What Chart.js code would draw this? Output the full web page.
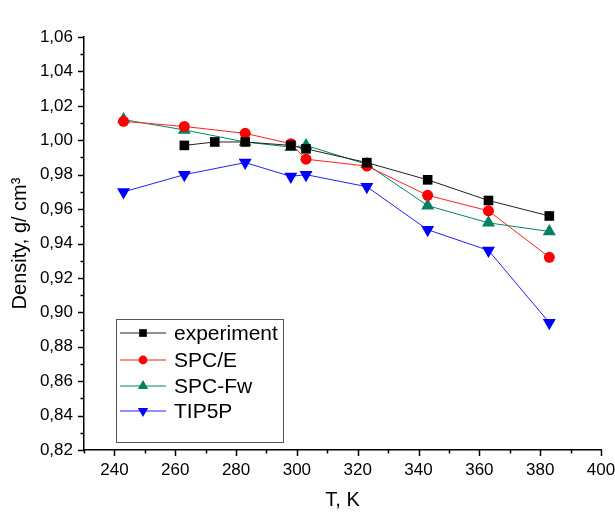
<!DOCTYPE html>
<html>
<head>
<meta charset="UTF-8">
<title>Density vs T</title>
<script src="https://cdn.jsdelivr.net/npm/chart.js"></script>
<style>
  body { margin: 0; background: #fff; }
  #wrap { width: 615px; height: 512px; }
</style>
</head>
<body>
<div id="wrap"><canvas id="densityChart"></canvas></div>
<script>
// temperatures, K
const temps = [243, 263, 273, 283, 298, 303, 323, 343, 363, 383];
// densities, g/cm3 (null = no point)
const experiment = [null, 0.997, 0.999, 0.999, 0.997, 0.995, 0.987, 0.977, 0.965, 0.956];
const spcE      = [1.011, 1.008, null, 1.004, 0.998, 0.989, 0.985, 0.968, 0.959, 0.932];
const spcFw     = [1.012, 1.006, null, 0.999, 0.996, 0.997, 0.986, 0.962, 0.952, 0.947];
const tip5p     = [0.970, 0.980, null, 0.987, 0.979, 0.980, 0.973, 0.948, 0.936, 0.894];

const xMajor = [240, 260, 280, 300, 320, 340, 360, 380, 400];
const yMajor = [0.82, 0.84, 0.86, 0.88, 0.90, 0.92, 0.94, 0.96, 0.98, 1.00, 1.02, 1.04, 1.06];

const FONT = 'Arial, "Liberation Sans", sans-serif';

function pts(vals) {
    return temps.map((t, i) => ({ x: t, y: vals[i] })).filter(p => p.y !== null);
}

// origin-like ticks (major + minor, outward) and legend box inside the plot
const originPlugin = {
    id: 'originPlugin',
    afterDraw(chart) {
        const ctx = chart.ctx;
        const xs = chart.scales.x, ys = chart.scales.y;
        ctx.save();
        ctx.strokeStyle = '#000';
        ctx.lineWidth = 1.5;
        // y ticks
        for (let i = 0; i <= 24; i++) {
            const v = 0.82 + i * 0.01;
            const py = Math.round(ys.getPixelForValue(v)) + 0.5;
            const len = i % 2 === 0 ? 6 : 3.5;
            ctx.beginPath();
            ctx.moveTo(xs.left, py);
            ctx.lineTo(xs.left - len, py);
            ctx.stroke();
        }
        // x ticks
        for (let v = 230; v <= 400; v += 10) {
            const px = Math.round(xs.getPixelForValue(v)) + 0.5;
            const len = (v - 240) % 20 === 0 ? 6 : 3.5;
            ctx.beginPath();
            ctx.moveTo(px, ys.bottom);
            ctx.lineTo(px, ys.bottom + len);
            ctx.stroke();
        }

        // legend
        const bx = 116, by = 319, bw = 167, bh = 123;
        ctx.lineWidth = 1;
        ctx.strokeStyle = '#555';
        ctx.fillStyle = '#fff';
        ctx.fillRect(bx, by, bw, bh);
        ctx.strokeRect(bx + 0.5, by + 0.5, bw, bh);
        const rowY = [333, 360, 386, 411];
        chart.data.datasets.forEach((ds, i) => {
            const y = rowY[i];
            ctx.strokeStyle = ds.borderColor;
            ctx.lineWidth = 1;
            ctx.beginPath();
            ctx.moveTo(120, y);
            ctx.lineTo(166, y);
            ctx.stroke();
            ctx.fillStyle = ds.pointBackgroundColor;
            ctx.strokeStyle = ds.pointBackgroundColor;
            Chart.helpers.drawPoint(ctx, {
                pointStyle: ds.pointStyle,
                radius: ds.pointRadius * 0.8,
                rotation: ds.pointRotation || 0,
                borderWidth: 0
            }, 143, y);
            ctx.fillStyle = '#000';
            ctx.font = '21px ' + FONT;
            ctx.textBaseline = 'middle';
            ctx.textAlign = 'left';
            ctx.fillText(ds.label, 174, y + 1);
        });
        ctx.restore();
    }
};

const ctx = document.getElementById('densityChart').getContext('2d');
new Chart(ctx, {
    type: 'line',
    data: {
        datasets: [
            { label: 'experiment', data: pts(experiment), borderColor: '#222', pointBackgroundColor: '#000',
              pointStyle: 'rect', pointRadius: 6.8, pointBorderWidth: 0, borderWidth: 1 },
            { label: 'SPC/E', data: pts(spcE), borderColor: '#ff2020', pointBackgroundColor: '#ff0000',
              pointStyle: 'circle', pointRadius: 5.5, pointBorderWidth: 0, borderWidth: 1 },
            { label: 'SPC-Fw', data: pts(spcFw), borderColor: '#00875f', pointBackgroundColor: '#008060',
              pointStyle: 'triangle', pointRadius: 7.5, pointBorderWidth: 0, borderWidth: 1 },
            { label: 'TIP5P', data: pts(tip5p), borderColor: '#2020ff', pointBackgroundColor: '#0000ff',
              pointStyle: 'triangle', pointRotation: 180, pointRadius: 7.5, pointBorderWidth: 0, borderWidth: 1 }
        ]
    },
    options: {
        responsive: true,
        maintainAspectRatio: false,
        animation: false,
        layout: { padding: { top: 37, right: 0, left: 0, bottom: 0 } },
        plugins: { legend: { display: false }, tooltip: { enabled: false } },
        elements: { line: { tension: 0 } },
        scales: {
            x: {
                type: 'linear',
                min: 230, max: 400,
                afterBuildTicks: s => { s.ticks = xMajor.map(v => ({ value: v })); },
                afterFit: s => { s.height = 62; s.paddingRight = 14; s.paddingLeft = 0; },
                grid: { drawOnChartArea: false, drawTicks: false },
                border: { display: true, color: '#000', width: 1.5 },
                ticks: { color: '#000', padding: 10, maxRotation: 0, autoSkip: false,
                         font: { family: FONT, size: 17 }, callback: v => String(v) },
                title: { display: true, text: 'T, K', color: '#000',
                         font: { family: FONT, size: 20 }, padding: { top: 0, bottom: 0 } }
            },
            y: {
                type: 'linear',
                min: 0.82, max: 1.06,
                afterBuildTicks: s => { s.ticks = yMajor.map(v => ({ value: v })); },
                afterFit: s => { s.width = 84; },
                grid: { drawOnChartArea: false, drawTicks: false },
                border: { display: true, color: '#000', width: 1.5 },
                ticks: { color: '#000', padding: 11, autoSkip: false,
                         font: { family: FONT, size: 17 }, callback: v => v.toFixed(2).replace('.', ',') },
                title: { display: true, text: 'Density, g/ cm³', color: '#000',
                         font: { family: FONT, size: 20 }, padding: { top: 8, bottom: 0 } }
            }
        }
    },
    plugins: [originPlugin]
});
</script>
</body>
</html>
